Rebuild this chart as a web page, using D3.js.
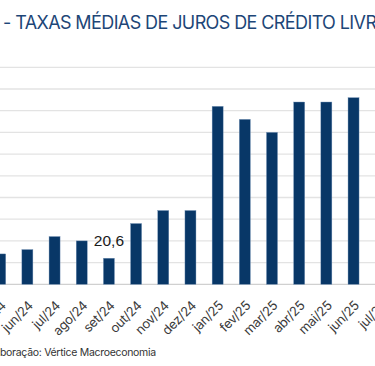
<!DOCTYPE html>
<html><head><meta charset="utf-8">
<script src="https://cdn.jsdelivr.net/npm/d3@7"></script>
<style>html,body{margin:0;padding:0;background:#fff;overflow:hidden}</style>
</head><body>
<svg id="c" width="375" height="366"></svg>
<script>
const categories = ["mai/24","jun/24","jul/24","ago/24","set/24","out/24","nov/24","dez/24","jan/25","fev/25","mar/25","abr/25","mai/25","jun/25","jul/25"];
const values = [20.7,20.8,21.1,21.0,20.6,21.4,21.7,21.7,24.1,23.8,23.5,24.2,24.2,24.3,24.4];
const yTicks = [20,20.5,21,21.5,22,22.5,23,23.5,24,24.5,25];
const labelled = ["set/24"];
const titleText = "- TAXAS MÉDIAS DE JUROS DE CRÉDITO LIVRE";
const sourceText = "Elaboração: Vértice Macroeconomia";

const svg = d3.select("#c");
const step = 27.18;
const x0 = 0.2 - step/2;
const x = d3.scaleBand().domain(categories).range([x0, x0 + step*categories.length]).paddingInner(0.595).paddingOuter(0.2975);
const y = d3.scaleLinear().domain([20,25]).range([284.3,67.3]);

// gridlines
svg.append("g").selectAll("line").data(yTicks.slice(1)).join("line")
  .attr("x1",0).attr("x2",375).attr("y1",d=>y(d)).attr("y2",d=>y(d))
  .attr("stroke","#e3e3e3").attr("stroke-width",1.3);
svg.append("line").attr("x1",0).attr("x2",375).attr("y1",y(20)).attr("y2",y(20))
  .attr("stroke","#d0d0d0").attr("stroke-width",1.3);

// bars
svg.append("g").selectAll("rect").data(categories).join("rect")
  .attr("x",d=>x(d)).attr("width",x.bandwidth())
  .attr("y",(d,i)=>y(values[i])).attr("height",(d,i)=>y(20)-y(values[i]))
  .attr("fill","#083767").attr("stroke","#6f8fb5").attr("stroke-width",0.4);

// data label
svg.append("g").selectAll("text").data(categories.filter(c=>labelled.includes(c))).join("text")
  .attr("x",d=>x(d)+x.bandwidth()/2).attr("y",d=>y(values[categories.indexOf(d)])-12)
  .attr("text-anchor","middle").attr("font-family","Liberation Sans, Arial, sans-serif")
  .attr("font-size",15.5).attr("fill","#1a1a1a")
  .text(d=>values[categories.indexOf(d)].toFixed(1).replace(".",","));

// x axis labels
svg.append("g").selectAll("text").data(categories).join("text")
  .attr("transform",d=>`translate(${x(d)+x.bandwidth()/2},${300}) rotate(-45)`)
  .attr("text-anchor","end").attr("dy","0.7em")
  .attr("font-family","Inter, sans-serif").attr("font-size",13).attr("fill","#3a3a3a")
  .attr("letter-spacing",-0.3)
  .text(d=>d);

// title
svg.append("text").attr("x",3).attr("y",29).attr("font-family","Inter, sans-serif")
  .attr("font-size",18).attr("letter-spacing",-0.6).attr("fill","#1d4677").text(titleText);

// source
const src = svg.append("text").attr("y",356).attr("font-family","Inter, sans-serif")
  .attr("font-size",10.5).attr("letter-spacing",-0.3).attr("fill","#333").text(sourceText);
const tmp = svg.append("text").attr("font-family","Inter, sans-serif").attr("font-size",10.5).attr("letter-spacing",-0.3).text("Ela");
const w = tmp.node().getComputedTextLength(); tmp.remove();
src.attr("x",-w);
</script>
</body></html>
